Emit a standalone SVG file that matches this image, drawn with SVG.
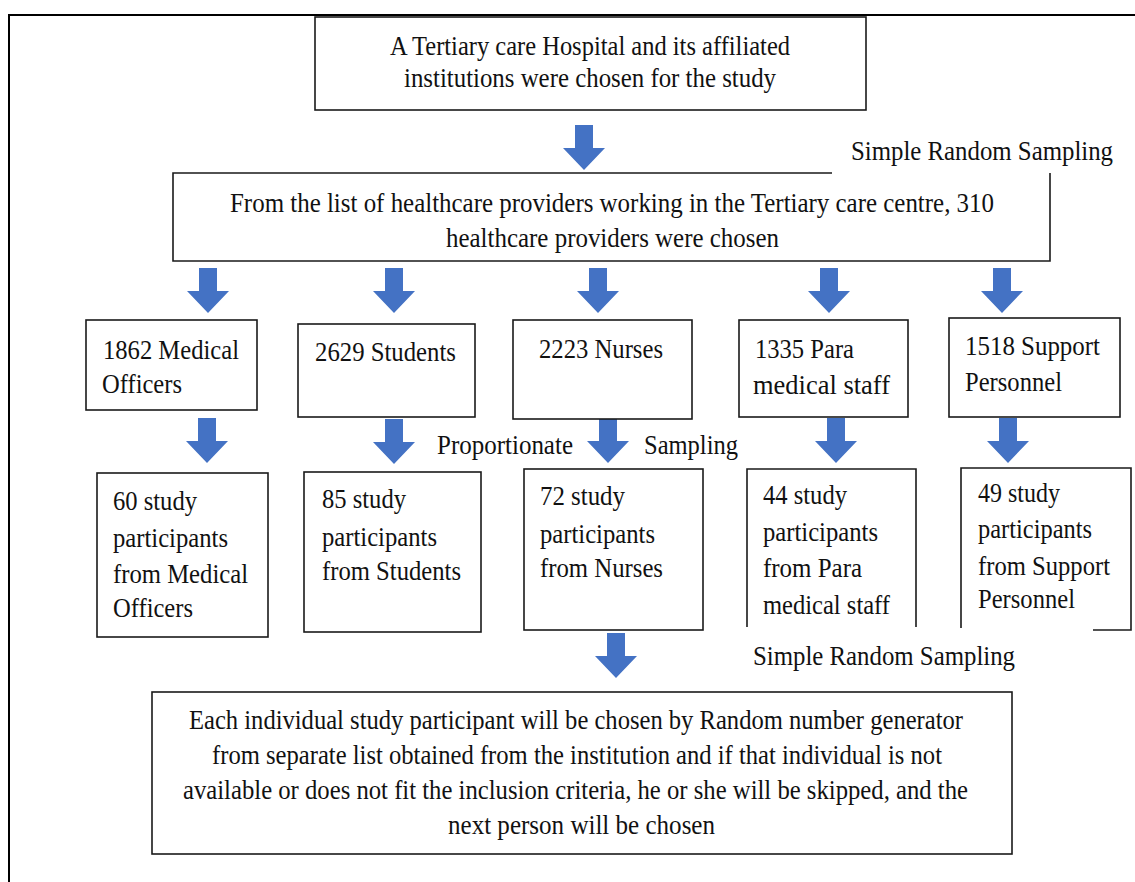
<svg xmlns="http://www.w3.org/2000/svg" width="1135" height="882" viewBox="0 0 1135 882">
<style>
.bx{fill:#fff;stroke:#1a1a1a;stroke-width:1.6}
.ln{fill:none;stroke:#1a1a1a;stroke-width:1.6}
text{font-family:'Liberation Serif','Times New Roman','DejaVu Serif',serif;font-size:28px;fill:#111}
.arr{fill:#4472C4}
</style>
<defs>
<path id="arr" d="M-9,0 H9 V23 H21 L0,45 L-21,23 H-9 Z"/>
</defs>
<rect width="1135" height="882" fill="#fff"/>
<g id="frame">
<path d="M9,882 V15 H1135" fill="none" stroke="#000" stroke-width="2"/>
</g>
<g id="connectors" class="arr">
<use href="#arr" x="584" y="125"/>
<use href="#arr" x="208" y="268"/>
<use href="#arr" x="394" y="268"/>
<use href="#arr" x="598" y="268"/>
<use href="#arr" x="829" y="268"/>
<use href="#arr" x="1002" y="268"/>
<use href="#arr" x="207" y="418"/>
<use href="#arr" x="394" y="419"/>
<use href="#arr" x="608" y="418"/>
<use href="#arr" x="836" y="418"/>
<use href="#arr" x="1008" y="418"/>
<use href="#arr" x="616" y="633"/>
</g>
<g id="n-top">
<rect class="bx" x="315" y="17" width="551" height="93"/>
<text x="390" y="55" textLength="400" lengthAdjust="spacingAndGlyphs">A Tertiary care Hospital and its affiliated</text>
<text x="404" y="87" textLength="372" lengthAdjust="spacingAndGlyphs">institutions were chosen for the study</text>
</g>
<g id="lbl-srs1">
<text x="851" y="160" textLength="262" lengthAdjust="spacingAndGlyphs">Simple Random Sampling</text>
</g>
<g id="n-list">
<rect x="173" y="173" width="877" height="88" fill="#fff"/>
<path class="ln" d="M832,173 H173 V261 H1050 V173"/>
<text x="230" y="212" textLength="764" lengthAdjust="spacingAndGlyphs">From the list of healthcare providers working in the Tertiary care centre, 310</text>
<text x="446" y="247" textLength="333" lengthAdjust="spacingAndGlyphs">healthcare providers were chosen</text>
</g>
<g id="n-mo">
<rect class="bx" x="86" y="320" width="171" height="90"/>
<text x="103" y="359" textLength="136" lengthAdjust="spacingAndGlyphs">1862 Medical</text>
<text x="102" y="393" textLength="80" lengthAdjust="spacingAndGlyphs">Officers</text>
</g>
<g id="n-st">
<rect class="bx" x="298" y="324" width="177" height="93"/>
<text x="315" y="361" textLength="141" lengthAdjust="spacingAndGlyphs">2629 Students</text>
</g>
<g id="n-nu">
<rect class="bx" x="513" y="320" width="179" height="99"/>
<text x="539" y="358" textLength="124" lengthAdjust="spacingAndGlyphs">2223 Nurses</text>
</g>
<g id="n-pa">
<rect class="bx" x="739" y="320" width="169" height="97"/>
<text x="755" y="358" textLength="99" lengthAdjust="spacingAndGlyphs">1335 Para</text>
<text x="753" y="394" textLength="137" lengthAdjust="spacingAndGlyphs">medical staff</text>
</g>
<g id="n-sp">
<rect class="bx" x="949" y="318" width="171" height="99"/>
<text x="965" y="355" textLength="135" lengthAdjust="spacingAndGlyphs">1518 Support</text>
<text x="965" y="391" textLength="97" lengthAdjust="spacingAndGlyphs">Personnel</text>
</g>
<g id="lbl-prop">
<text x="437" y="454" textLength="136" lengthAdjust="spacingAndGlyphs">Proportionate</text>
<text x="644" y="454" textLength="94" lengthAdjust="spacingAndGlyphs">Sampling</text>
</g>
<g id="n-mo2">
<rect class="bx" x="97" y="473" width="171" height="164"/>
<text x="113" y="510" textLength="84" lengthAdjust="spacingAndGlyphs">60 study</text>
<text x="113" y="547" textLength="115" lengthAdjust="spacingAndGlyphs">participants</text>
<text x="113" y="583" textLength="135" lengthAdjust="spacingAndGlyphs">from Medical</text>
<text x="113" y="617" textLength="80" lengthAdjust="spacingAndGlyphs">Officers</text>
</g>
<g id="n-st2">
<rect class="bx" x="304" y="472" width="177" height="160"/>
<text x="322" y="508" textLength="84" lengthAdjust="spacingAndGlyphs">85 study</text>
<text x="322" y="546" textLength="115" lengthAdjust="spacingAndGlyphs">participants</text>
<text x="322" y="580" textLength="139" lengthAdjust="spacingAndGlyphs">from Students</text>
</g>
<g id="n-nu2">
<rect class="bx" x="524" y="469" width="179" height="161"/>
<text x="540" y="505" textLength="85" lengthAdjust="spacingAndGlyphs">72 study</text>
<text x="540" y="543" textLength="115" lengthAdjust="spacingAndGlyphs">participants</text>
<text x="540" y="577" textLength="123" lengthAdjust="spacingAndGlyphs">from Nurses</text>
</g>
<g id="n-pa2">
<rect x="747" y="469" width="169" height="158" fill="#fff"/>
<path class="ln" d="M747,627 V469 H916 V627"/>
<text x="763" y="504" textLength="84" lengthAdjust="spacingAndGlyphs">44 study</text>
<text x="763" y="541" textLength="115" lengthAdjust="spacingAndGlyphs">participants</text>
<text x="763" y="577" textLength="99" lengthAdjust="spacingAndGlyphs">from Para</text>
<text x="763" y="614" textLength="127" lengthAdjust="spacingAndGlyphs">medical staff</text>
</g>
<g id="n-sp2">
<rect x="961" y="468" width="170" height="162" fill="#fff"/>
<path class="ln" d="M961,628 V468 H1131 V630 H1093"/>
<text x="978" y="502" textLength="82" lengthAdjust="spacingAndGlyphs">49 study</text>
<text x="978" y="538" textLength="114" lengthAdjust="spacingAndGlyphs">participants</text>
<text x="978" y="575" textLength="132" lengthAdjust="spacingAndGlyphs">from Support</text>
<text x="978" y="608" textLength="97" lengthAdjust="spacingAndGlyphs">Personnel</text>
</g>
<g id="lbl-srs2">
<text x="753" y="665" textLength="262" lengthAdjust="spacingAndGlyphs">Simple Random Sampling</text>
</g>
<g id="n-final">
<rect class="bx" x="152" y="692" width="860" height="162"/>
<text x="189" y="729" textLength="774" lengthAdjust="spacingAndGlyphs">Each individual study participant will be chosen by Random number generator</text>
<text x="212" y="764" textLength="730" lengthAdjust="spacingAndGlyphs">from separate list obtained from the institution and if that individual is not</text>
<text x="183" y="799" textLength="785" lengthAdjust="spacingAndGlyphs">available or does not fit the inclusion criteria, he or she will be skipped, and the</text>
<text x="448" y="834" textLength="267" lengthAdjust="spacingAndGlyphs">next person will be chosen</text>
</g>
</svg>
